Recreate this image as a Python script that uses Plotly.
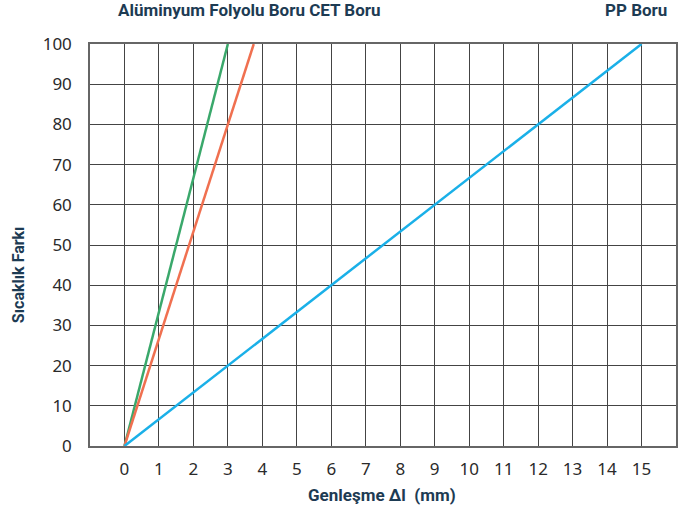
import plotly.graph_objects as go

series_names = ["Alüminyum Folyolu Boru", "CET Boru", "PP Boru"]
x_green = [0, 3]
y_green = [0, 100]
x_orange = [0, 3.75]
y_orange = [0, 100]
x_blue = [0, 15]
y_blue = [0, 100]
x_ticks = list(range(0, 16))
y_ticks = list(range(0, 101, 10))

colors = ["#3aa86b", "#f07050", "#1ab0e8"]
navy = "#1d3b53"
W, H = 684, 511
L, R, T, B = 90, 8, 44, 65

fig = go.Figure()
for name, xs, ys, c in zip(series_names, [x_green, x_orange, x_blue], [y_green, y_orange, y_blue], colors):
    fig.add_trace(go.Scatter(x=xs, y=ys, mode="lines", name=name,
                             line=dict(color=c, width=2.5)))

fig.update_layout(
    width=W, height=H,
    margin=dict(l=L, r=R, t=T, b=B, autoexpand=False),
    plot_bgcolor="white", paper_bgcolor="white",
    showlegend=False,
    font=dict(family="Noto Sans", size=17, color="#2a2a2a"),
    xaxis=dict(range=[-1, 16], tickvals=x_ticks, ticktext=[str(v) for v in x_ticks],
               showgrid=True, gridcolor="#444", gridwidth=1.3,
               showline=True, linecolor="#666", linewidth=1.5, mirror=True,
               zeroline=False, ticks="", ticklabelstandoff=7, automargin=False),
    yaxis=dict(range=[0, 100], tickvals=y_ticks,
               showgrid=True, gridcolor="#444", gridwidth=1.3,
               showline=True, linecolor="#666", linewidth=1.5, mirror=True,
               zeroline=False, ticks="", ticklabelstandoff=13, automargin=False),
)

bold = dict(family="Roboto", size=17, color=navy)
fig.add_annotation(text="<b>Alüminyum Folyolu Boru CET Boru</b>", x=3.64, y=1.0, xref="x", yref="paper",
                   yanchor="middle", yshift=34, showarrow=False, font=bold)
fig.add_annotation(text="<b>PP Boru</b>", x=14.83, y=1.0, xref="x", yref="paper",
                   yanchor="middle", yshift=34, showarrow=False, font=bold)
fig.add_annotation(text="<b>Genleşme Δl  (mm)</b>", x=7.47, y=0, xref="x", yref="paper",
                   yanchor="middle", yshift=-49, showarrow=False, font=dict(family="Roboto", size=17, color=navy))
fig.add_annotation(text="<b>Sıcaklık Farkı</b>", x=0, y=0.425, xref="paper", yref="paper",
                   xanchor="center", xshift=-72, textangle=-90, showarrow=False,
                   font=dict(family="Roboto", size=16, color=navy))

fig.write_html("out.html", config={"displayModeBar": False},
               post_script="document.body.style.margin='0';")
